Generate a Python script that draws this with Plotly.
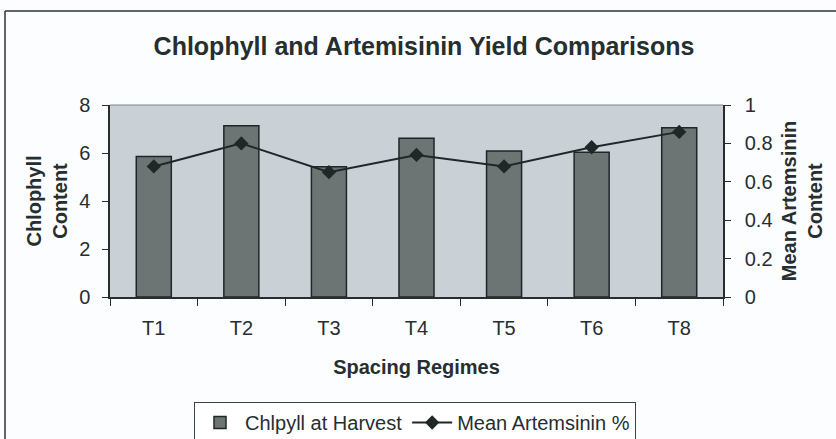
import plotly.graph_objects as go

# Spacing regimes and measured values
regimes = ["T1", "T2", "T3", "T4", "T5", "T6", "T8"]
chlorophyll = [5.85, 7.14, 5.43, 6.61, 6.08, 6.03, 7.05]
artemisinin = [0.68, 0.80, 0.65, 0.74, 0.68, 0.78, 0.86]

left_ticks = [0, 2, 4, 6, 8]
right_ticks = [0, 0.2, 0.4, 0.6, 0.8, 1]
right_tick_text = ["0", "0.2", "0.4", "0.6", "0.8", "1"]

INK = "#262e30"
FONT = "Liberation Sans, Arial, sans-serif"

W, H = 836, 439
L, R, T, B = 110, 113, 105, 142
PW, PH = W - L - R, H - T - B

fig = go.Figure()

fig.add_trace(go.Bar(
    x=regimes, y=chlorophyll, name="Chlpyll at Harvest",
    marker=dict(color="#6c7474", line=dict(color="#1e2626", width=1.5)),
    yaxis="y",
))

fig.add_trace(go.Scatter(
    x=regimes, y=artemisinin, name="Mean Artemsinin %",
    mode="lines+markers",
    line=dict(color="#1f2727", width=2),
    marker=dict(symbol="diamond", size=11, color="#1f2727"),
    yaxis="y2",
))

fig.update_layout(
    width=W, height=H,
    margin=dict(l=L, r=R, t=T, b=B, autoexpand=False),
    paper_bgcolor="#fcfdfe",
    plot_bgcolor="#c9d1d7",
    font=dict(family=FONT, color=INK, size=20),
    bargap=0.6,
    showlegend=True,
    title=dict(
        text="<b>Chlophyll and Artemisinin Yield Comparisons</b>",
        x=(424 - L) / PW, xref="paper", xanchor="center",
        y=1 - 46 / H, yanchor="middle",
        font=dict(size=25, color=INK),
    ),
    xaxis=dict(
        categoryorder="array", categoryarray=regimes,
        showline=True, linecolor=INK, linewidth=1.5,
        ticks="outside", ticklen=7, tickcolor=INK, tickson="boundaries",
        ticklabelstandoff=12,
        tickfont=dict(size=20),
        title=dict(text="<b>Spacing Regimes</b>", font=dict(size=20), standoff=22),
        showgrid=False, zeroline=False, automargin=False,
    ),
    yaxis=dict(
        range=[0, 8], tickvals=left_ticks,
        showline=True, linecolor=INK, linewidth=1.5,
        ticks="outside", ticklen=6, tickcolor=INK,
        ticklabelstandoff=8,
        tickfont=dict(size=20),
        title=dict(text="<b>Chlophyll<br>Content</b>", font=dict(size=20), standoff=6),
        showgrid=False, zeroline=False, automargin=False,
    ),
    yaxis2=dict(
        range=[0, 1], tickvals=right_ticks, ticktext=right_tick_text,
        overlaying="y", side="right",
        showline=True, linecolor=INK, linewidth=1.5,
        ticks="outside", ticklen=6, tickcolor=INK,
        ticklabelstandoff=10,
        tickfont=dict(size=20),
        title=dict(text="<b>Mean Artemsinin<br>Content</b>", font=dict(size=20), standoff=10),
        showgrid=False, zeroline=False, automargin=False,
    ),
    legend=dict(
        orientation="h",
        xref="container", yref="container",
        x=415 / W, xanchor="center",
        y=(H - 402) / H, yanchor="top",
        bgcolor="#ffffff",
        bordercolor="#3a4446", borderwidth=1,
        font=dict(size=20, color=INK),
        itemwidth=40,
    ),
)

# Plot area top border and outer chart frame
fig.add_shape(type="line", xref="paper", yref="paper", x0=0, x1=1, y0=1, y1=1,
              line=dict(color="#7d868a", width=1))
fx = (5 - L) / PW
fy_top = (H - B - 11) / PH
fig.add_shape(type="line", xref="paper", yref="paper",
              x0=fx, x1=fx, y0=-B / PH, y1=fy_top,
              line=dict(color="#2d3436", width=1.5))
fig.add_shape(type="line", xref="paper", yref="paper",
              x0=fx, x1=(W - L) / PW, y0=fy_top, y1=fy_top,
              line=dict(color="#2d3436", width=1.5))

fig.write_html("out.html")
